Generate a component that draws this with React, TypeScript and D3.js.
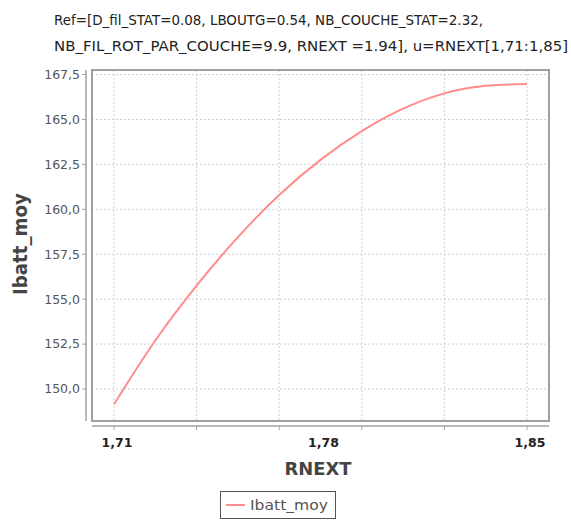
import React from "react";
import * as d3 from "d3";

const titleLines = [
  "Ref=[D_fil_STAT=0.08, LBOUTG=0.54, NB_COUCHE_STAT=2.32,",
  "NB_FIL_ROT_PAR_COUCHE=9.9, RNEXT =1.94], u=RNEXT[1,71:1,85]",
];
const titleWidths = [429, 514];
const xValues = [1.71, 1.724, 1.738, 1.752, 1.766, 1.78, 1.794, 1.808, 1.822, 1.836, 1.85];
const ibattMoy = [149.15, 152.7, 155.75, 158.45, 160.8, 162.75, 164.35, 165.6, 166.45, 166.87, 166.97];
const yTicks = [150, 152.5, 155, 157.5, 160, 162.5, 165, 167.5];
const xTicks = [1.71, 1.738, 1.766, 1.794, 1.822, 1.85];
const xTickLabels = [1.71, 1.78, 1.85];
const xAxisLabel = "RNEXT";
const yAxisLabel = "Ibatt_moy";
const seriesName = "Ibatt_moy";

const W = 571;
const H = 520;
const box = { left: 92, right: 549, top: 70, bottom: 421 };
const FONT = "'DejaVu Sans', Verdana, sans-serif";

export default function App() {
  const x = d3.scaleLinear().domain([1.71, 1.85]).range([114, 527]);
  const y = d3.scaleLinear().domain([150, 167.5]).range([389, 74.5]);
  const line = d3
    .line<number>()
    .x((_, i) => x(xValues[i]))
    .y((d) => y(d))
    .curve(d3.curveMonotoneX);
  const fmtY = (v: number) => d3.format(".1f")(v).replace(".", ",");
  const fmtX = (v: number) => d3.format(".2f")(v).replace(".", ",");
  const axisY = box.bottom + 5;
  const axisX = box.left - 6;

  return (
    <div style={{ position: "absolute", left: 0, top: 0 }}>
      <svg width={W} height={H} style={{ display: "block", background: "#fff" }}>
        {titleLines.map((t, i) => (
          <text
            key={i}
            x={54}
            y={25 + i * 26}
            fontFamily={FONT}
            fontSize={14}
            fill="#222"
            textLength={titleWidths[i]}
            lengthAdjust="spacingAndGlyphs"
          >
            {t}
          </text>
        ))}
        {/* grid */}
        {yTicks.map((v) => (
          <line key={"gy" + v} x1={box.left} x2={box.right} y1={y(v)} y2={y(v)} stroke="#d0d0d0" strokeWidth={1} strokeDasharray="2,2" />
        ))}
        {xTicks.map((v) => (
          <line key={"gx" + v} x1={x(v)} x2={x(v)} y1={box.top} y2={box.bottom} stroke="#d0d0d0" strokeWidth={1} strokeDasharray="2,2" />
        ))}
        {/* plot border */}
        <rect x={box.left} y={box.top} width={box.right - box.left} height={box.bottom - box.top} fill="none" stroke="#a0a0a0" strokeWidth={2} />
        {/* series */}
        <path d={line(ibattMoy) || ""} fill="none" stroke="#ff8c8c" strokeWidth={2} />
        {/* y axis */}
        <line x1={axisX} x2={axisX} y1={box.top} y2={box.bottom} stroke="#a0a0a0" strokeWidth={1.5} />
        {yTicks.map((v) => (
          <g key={"ty" + v}>
            <line x1={axisX - 4} x2={axisX} y1={y(v)} y2={y(v)} stroke="#a0a0a0" strokeWidth={1} />
            <text x={axisX - 6} y={y(v)} dy="0.35em" textAnchor="end" fontFamily={FONT} fontSize={12.5} fill="#555">
              {fmtY(v)}
            </text>
          </g>
        ))}
        {/* x axis */}
        <line x1={box.left} x2={box.right} y1={axisY} y2={axisY} stroke="#a0a0a0" strokeWidth={1.5} />
        {xTicks.map((v) => (
          <line key={"tx" + v} x1={x(v)} x2={x(v)} y1={axisY} y2={axisY + 4} stroke="#a0a0a0" strokeWidth={1} />
        ))}
        {xTickLabels.map((v) => (
          <text key={"lx" + v} x={x(v) + 3} y={447} textAnchor="middle" fontFamily={FONT} fontSize={12.5} fontWeight="bold" fill="#222">
            {fmtX(v)}
          </text>
        ))}
        <text x={318} y={475} textAnchor="middle" fontFamily={FONT} fontSize={18} fontWeight="bold" fill="#444" textLength={67} lengthAdjust="spacingAndGlyphs">
          {xAxisLabel}
        </text>
        <text transform="translate(27,244) rotate(-90)" textAnchor="middle" fontFamily={FONT} fontSize={19} fontWeight="bold" fill="#444" textLength={102} lengthAdjust="spacingAndGlyphs">
          {yAxisLabel}
        </text>
        {/* legend */}
        <rect x={220.5} y={491.5} width={115} height={27} fill="#fff" stroke="#555" strokeWidth={1} />
        <line x1={226} x2={245} y1={505} y2={505} stroke="#ff8c8c" strokeWidth={2} />
        <text x={250} y={505} dy="0.35em" fontFamily={FONT} fontSize={14.5} fill="#555" textLength={78} lengthAdjust="spacingAndGlyphs">
          {seriesName}
        </text>
      </svg>
    </div>
  );
}
